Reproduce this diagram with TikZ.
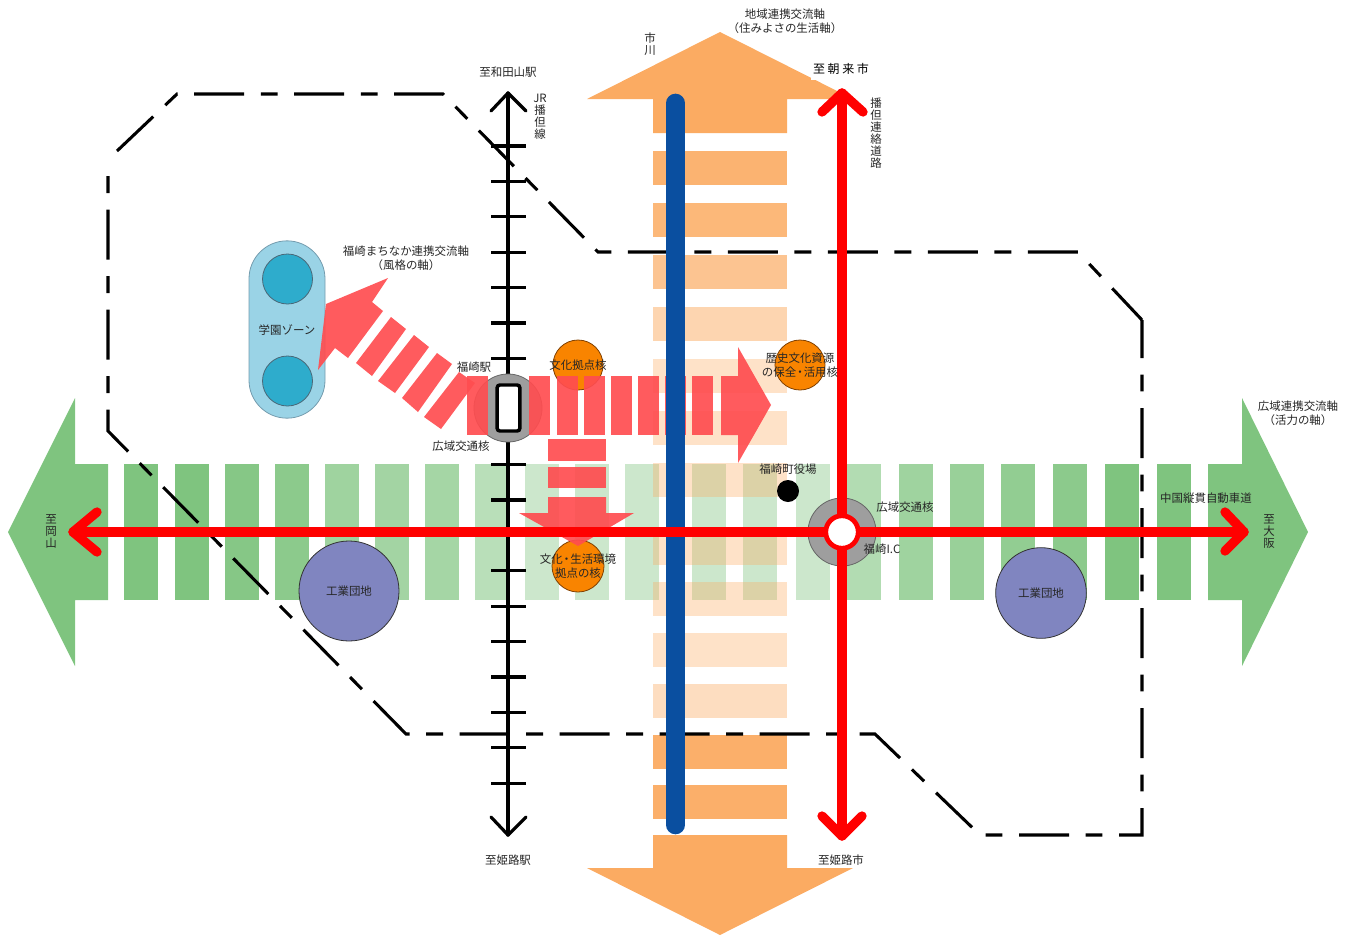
\documentclass[tikz,border=0pt]{standalone}
\usepackage{fontspec}
\setmainfont{Noto Sans CJK JP}
\usepackage{xcolor}
\usetikzlibrary{positioning,calc}

\definecolor{greenaxis}{HTML}{7FC47F}
\definecolor{orangeaxis}{HTML}{FBAB62}
\definecolor{redaxis}{HTML}{FF4D50}
\definecolor{roadred}{HTML}{FF0000}
\definecolor{riverblue}{HTML}{0A4FA0}
\definecolor{corefill}{HTML}{F98400}
\definecolor{zonefill}{HTML}{9AD3E6}
\definecolor{zonedot}{HTML}{2EACCC}
\definecolor{factory}{HTML}{8085C0}

\tikzset{
  lab/.style={font=\fontsize{8.6}{10.5}\selectfont, text=black!85, inner sep=0pt, align=center},
  vlab/.style={font=\fontsize{8.6}{9}\selectfont, text=black!85, inner sep=0pt, align=center},
  road/.style={draw=roadred, line width=7pt, line cap=round, line join=round},
  rail/.style={draw=black, line width=2.4pt, line cap=round, line join=round},
  boundary/.style={draw=black, line width=2.3pt, dash pattern=on 37.5pt off 12.4pt on 12.7pt off 12.4pt},
  core/.style={circle, draw=black!50!orange, fill=corefill, line width=0.6pt, minimum size=37.5pt, inner sep=0pt},
  works/.style={circle, draw=black!80, fill=factory, line width=0.6pt, inner sep=0pt},
  dot/.style={circle, draw=black!60!cyan, fill=zonedot, line width=0.6pt, minimum size=37.5pt, inner sep=0pt},
  hub/.style={circle, draw=black!60, fill=black!38, line width=0.6pt, minimum size=51pt, inner sep=0pt},
}

\begin{document}
\begin{tikzpicture}[x=0.75pt, y=-0.75pt]
  \useasboundingbox (0,0) rectangle (1355,935);

  % green axis
  \fill[greenaxis] (8,532) -- (75,398) -- (75,464) -- (108,464) -- (108,600) -- (75,600) -- (75,666) -- cycle;
  \fill[greenaxis] (1308,532) -- (1242,398) -- (1242,464) -- (1208,464) -- (1208,600) -- (1242,600) -- (1242,666) -- cycle;
  \foreach \xa/\op in {124/1,175/1,225/.95,275/.9,325/.75,375/.72,425/.7,475/.55,525/.4,575/.4,625/.4,692/.4,743/.4,796/.4,847/.6,899/.75,950/.8,1001/.85,1053/.9,1105/1,1157/1}
    \fill[greenaxis, fill opacity=\op] (\xa,464) rectangle ++(33.5,135.5);

  % orange axis
  \fill[orangeaxis] (720,32) -- (853,99) -- (787,99) -- (787,133) -- (653,133) -- (653,99) -- (587,99) -- cycle;
  \fill[orangeaxis] (720,935) -- (853,868) -- (787,868) -- (787,835) -- (653,835) -- (653,868) -- (587,868) -- cycle;
  \foreach \ya/\op in {151/.9,203/.85,255/.7,307/.5,359/.35,411/.35,463/.35,531/.35,582/.35,633/.35,684/.4,735/.95,785/.95}
    \fill[orangeaxis, fill opacity=\op] (653,\ya) rectangle ++(134,33.5);

  % boundary
  \draw[boundary] (117,151) -- (177,94) -- (443,94) -- (598,252) -- (1078,252) -- (1142,320);
  \draw[boundary, dash phase=9pt] (1142,320) -- (1142,835) -- (980,835) -- (875,734) -- (406,734) -- (108,431) -- (108,160);

  % nodes under the red arrows
  \node[core] (culture) at (578,365) {};
  \node[core] (heritage) at (800,365) {};
  \node[core, minimum size=39pt] (living) at (578,566) {};
  \node[works, minimum size=75pt] (worksw) at (349,591) {};
  \node[works, minimum size=68pt] (workse) at (1041,593) {};
  \node[circle, fill=black, minimum size=16.5pt, inner sep=0pt] (townhall) at (788,491) {};

  % railway
  \coordinate (railn) at (508,93);
  \coordinate (rails) at (508,835);
  \draw[rail] (railn) -- (rails);
  \draw[rail] (491,111) -- (railn) -- (526,111);
  \draw[rail] (491,817) -- (rails) -- (526,817);
  \foreach \k in {0,...,18}
    \draw[rail, line cap=butt] (491,146+35.4*\k) -- (526,146+35.4*\k);

  % station
  \node[hub] (station) at (508,408) {};

  % zone
  \node[draw=black!50!cyan!70, fill=zonefill, line width=0.6pt, rounded corners=28.5pt, minimum width=57pt, minimum height=133pt, inner sep=0pt] (zone) at (287,329.5) {};
  \node[dot] (zonen) at (287.5,279) {};
  \node[dot] (zones) at (287.5,381) {};

  % red arrows
  \begin{scope}[fill=redaxis, fill opacity=.92]
    \foreach \xa in {467,529,557,584,611,638,665,692}
      \fill (\xa,376) rectangle ++(21,59);
    \fill (771,405) -- (738,463) -- (738,435) -- (721,435) -- (721,376) -- (738,376) -- (738,347) -- cycle;
    \fill (548,439) rectangle (606,461);
    \fill (548,467) rectangle (606,488);
    \fill (578,546) -- (519,513) -- (548,513) -- (548,497) -- (606,497) -- (606,513) -- (634,513) -- cycle;
    \fill (326,304) -- (388,278) -- (372,302) -- (383,311) -- (348,358) -- (335,348) -- (318,370) -- cycle;
    \fill (391,317) -- (406,329) -- (372,376) -- (356,363) -- cycle;
    \fill (414,335) -- (429,347) -- (395,393) -- (378,381) -- cycle;
    \fill (437,353) -- (452,364) -- (418,412) -- (402,398) -- cycle;
    \fill (459,372) -- (475,383) -- (441,429) -- (424,417) -- cycle;
  \end{scope}

  \node[draw=black, fill=white, line width=2.6pt, rounded corners=2pt, minimum width=17pt, minimum height=34.5pt, inner sep=0pt] (stationbox) at (508.5,408) {};

  % river
  \coordinate (rivern) at (675.5,103);
  \coordinate (rivers) at (675.5,825);
  \draw[draw=riverblue, line width=14pt, line cap=round] (rivern) -- (rivers);

  % roads
  \coordinate (roadn) at (842,93);
  \coordinate (roads) at (842,836);
  \coordinate (roadw) at (73,532);
  \coordinate (roade) at (1244,532);
  \node[hub] (ic) at (842,532) {};
  \draw[road] (roadn) -- (roads);
  \draw[road] (822,112) -- (roadn) -- (863,112);
  \draw[road] (822,816) -- (roads) -- (862,816);
  \draw[road] (roadw) -- (roade);
  \draw[road] (97,512) -- (roadw) -- (97,552);
  \draw[road] (1225,512) -- (roade) -- (1225,551);
  \node[circle, draw=roadred, fill=white, line width=3.6pt, minimum size=24.4pt, inner sep=0pt] (icbox) at (842,532) {};

  % labels
  \node[lab] (regionaxis) at (785,21) {地域連携交流軸\\（住みよさの生活軸）};
  \node[vlab] (river) at (650,44) {市\\川};
  \node[fill=white, inner sep=0pt, minimum width=45pt, minimum height=16.5pt, font=\fontsize{9}{10}\selectfont] (asago) at (841,69) {至\hspace{1.9pt}朝\hspace{1.9pt}来\hspace{1.9pt}市};
  \node[lab] (wadayama) at (508,72) {至和田山駅};
  \node[vlab] (jr) at (540,117) {JR\\播\\但\\線};
  \node[vlab] (bantan) at (876,133) {播\\但\\連\\絡\\道\\路};
  \node[lab] (townaxis) at (406,258) {福崎まちなか連携交流軸\\（風格の軸）};
  \node[lab] (school) at (287,330) {学園ゾーン};
  \node[lab] (fsta) at (474,367) {福崎駅};
  \node[lab] (hubw) at (461,446) {広域交通核};
  \node[lab] at (culture) {文化拠点核};
  \node[lab] at (heritage) {歴史文化資源\\の保全\kern-1.5pt・\kern-1.5pt活用核};
  \node[lab] (town) at (788,469) {福崎町役場};
  \node[lab] (hube) at (905,507) {広域交通核};
  \node[lab] (fic) at (882,549) {福崎I.C};
  \node[lab] (chugoku) at (1206,498) {中国縦貫自動車道};
  \node[lab] (wideaxis) at (1298,413) {広域連携交流軸\\（活力の軸）};
  \node[vlab] (osaka) at (1269,531) {至\\大\\阪};
  \node[vlab] (okayama) at (51,531) {至\\岡\\山};
  \node[lab] at (worksw) {工業団地};
  \node[lab] at (workse) {工業団地};
  \node[lab] at (living) {文化\kern-1.5pt・\kern-1.5pt生活環境\\拠点の核};
  \node[lab] (himejista) at (508,860) {至姫路駅};
  \node[lab] (himeji) at (841,860) {至姫路市};
\end{tikzpicture}
\end{document}
